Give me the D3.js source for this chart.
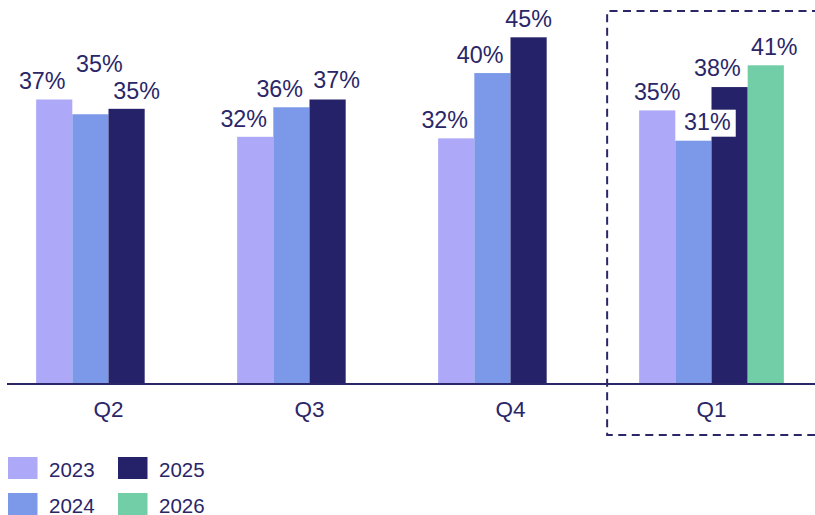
<!DOCTYPE html>
<html>
<head>
<meta charset="utf-8">
<script src="https://cdn.jsdelivr.net/npm/d3@7"></script>
<style>
  html, body { margin: 0; padding: 0; background: #fff; }
  svg { display: block; font-family: "Liberation Sans", Arial, sans-serif; }
</style>
</head>
<body>
<div id="chart"></div>
<script>
// Données
const QUARTERS = ['Q2', 'Q3', 'Q4', 'Q1'];
const YEARS = ['2023', '2024', '2025', '2026'];
const V2023 = [36.6, 31.8, 31.6, 35.2];
const V2024 = [34.7, 35.6, 40.0, 31.3];
const V2025 = [35.4, 36.6, 44.6, 38.2];
const V2026 = [null, null, null, 41.0];
const SERIES = [V2023, V2024, V2025, V2026];

// Mise en page
const WIDTH = 815;
const HEIGHT = 515;
const BASE_Y = 384;
const TEXT = '#2a2668';
const COLORS = ['#aea8f8', '#7b99e8', '#26226a', '#72cea6'];

// Décalage des étiquettes (évite les chevauchements)
const LABEL_DX = [[-12, 9, 10, 0], [-11.5, -11.7, 9, 0], [-11.5, -12.3, 0, 0], [0, 14, -12.3, 8.5]];
const LABEL_LIFT = [[0, 32.5, 0, 0], [0, 0, 1, 0], [0, 0, 0, 0], [0, 1, 1, 0]];

const svg = d3.select('#chart').append('svg')
    .attr('width', WIDTH)
    .attr('height', HEIGHT);

const x0 = d3.scaleBand()
    .domain(QUARTERS)
    .range([8, 812])
    .paddingInner(0.28)
    .paddingOuter(0.14);

const x1 = d3.scaleBand()
    .domain(YEARS)
    .range([0, x0.bandwidth()]);

const y = d3.scaleLinear()
    .domain([0, 49.4])
    .range([BASE_Y, 0]);

// Table des barres
const bars = [];
QUARTERS.forEach((q, qi) => {
    YEARS.forEach((yr, yi) => {
        const v = SERIES[yi][qi];
        if (v != null) bars.push({ q, qi, yr, yi, v });
    });
});

// Cadre pointillé autour de Q1
const boxX = x0('Q1') - 32;
svg.append('path')
    .attr('d', `M${WIDTH + 5},11 H${boxX} V435 H${WIDTH + 5}`)
    .attr('fill', 'none')
    .attr('stroke', TEXT)
    .attr('stroke-width', 2)
    .attr('stroke-dasharray', '8,5.5');

// Barres
svg.selectAll('.bar')
    .data(bars)
    .enter()
    .append('rect')
    .attr('class', 'bar')
    .attr('x', d => x0(d.q) + x1(d.yr))
    .attr('y', d => y(d.v))
    .attr('width', x1.bandwidth())
    .attr('height', d => y(0) - y(d.v))
    .attr('fill', d => COLORS[d.yi]);

// Axe X
const xAxis = svg.append('g')
    .attr('transform', `translate(0,${BASE_Y})`)
    .call(d3.axisBottom(x0).tickSize(0).tickPadding(17));
xAxis.select('.domain')
    .attr('d', `M7,0H${WIDTH}`)
    .attr('stroke', TEXT)
    .attr('stroke-width', 2.2);
xAxis.selectAll('text')
    .attr('fill', TEXT)
    .attr('font-size', '22.5px')
    .attr('font-family', '"Liberation Sans", Arial, sans-serif');

// Étiquettes de valeurs
const labels = svg.selectAll('.label')
    .data(bars)
    .enter()
    .append('g')
    .attr('class', 'label');

labels.append('text')
    .attr('x', d => x0(d.q) + x1(d.yr) + x1.bandwidth() / 2 + LABEL_DX[d.qi][d.yi])
    .attr('y', d => y(d.v) - 10 - LABEL_LIFT[d.qi][d.yi])
    .attr('text-anchor', 'middle')
    .attr('fill', TEXT)
    .attr('font-size', '23.3px')
    .text(d => Math.round(d.v) + '%');

labels.each(function() {
    const g = d3.select(this);
    const b = g.select('text').node().getBBox();
    g.insert('rect', 'text')
        .attr('x', b.x - 7)
        .attr('y', b.y + 1)
        .attr('width', b.width + 12)
        .attr('height', b.height + 1)
        .attr('fill', '#fff');
});

// Légende
const legend = svg.append('g');
YEARS.forEach((yr, i) => {
    const col = Math.floor(i / 2);
    const row = i % 2;
    const lx = 8 + col * 110;
    const ly = 457 + row * 36;
    legend.append('rect')
        .attr('x', lx)
        .attr('y', ly)
        .attr('width', 29.5)
        .attr('height', 22)
        .attr('fill', COLORS[i]);
    legend.append('text')
        .attr('x', lx + 41)
        .attr('y', ly + 19.5)
        .attr('fill', TEXT)
        .attr('font-size', '20.5px')
        .text(yr);
});
</script>
</body>
</html>
